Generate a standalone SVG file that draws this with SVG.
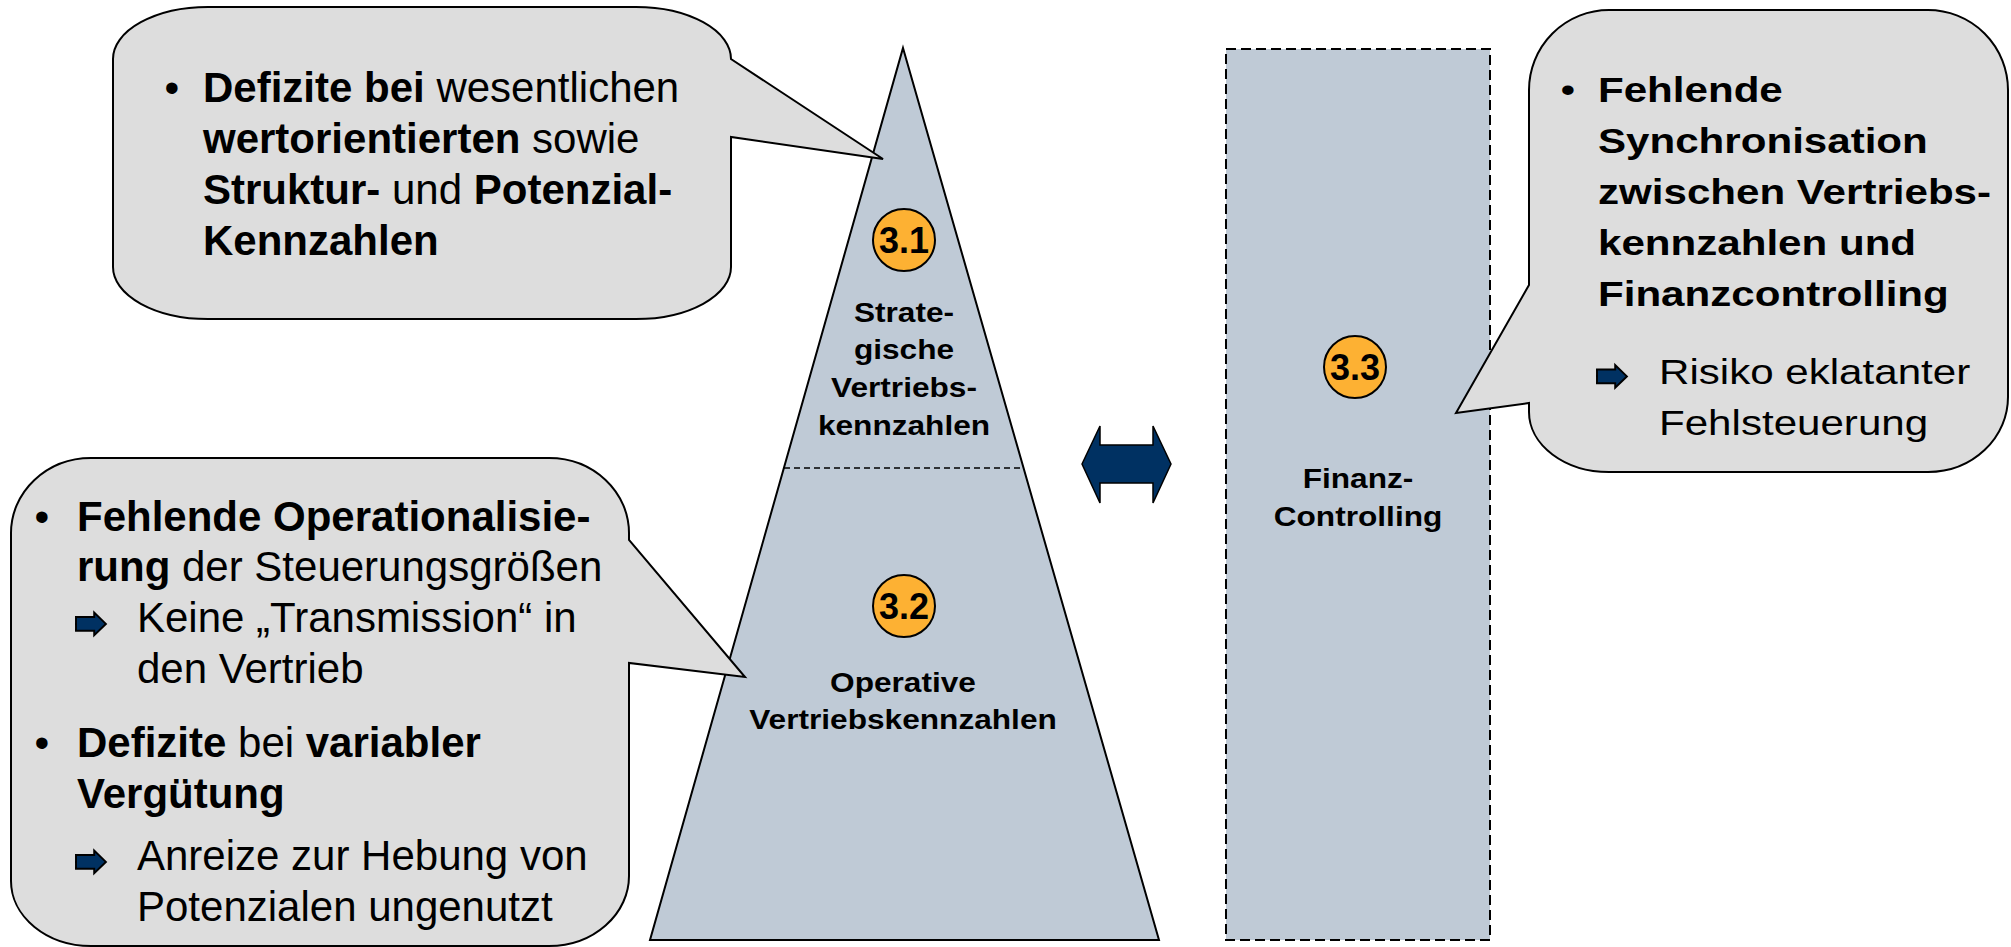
<svg xmlns="http://www.w3.org/2000/svg" width="2011" height="947" viewBox="0 0 2011 947">
<defs>
<style>
.t{font-family:"Liberation Sans",Arial,Helvetica,sans-serif;font-size:36px;fill:#000}
.tl{font-family:"Liberation Sans",Arial,Helvetica,sans-serif;font-size:42px;fill:#000}
.b{font-weight:bold}
.lbl{font-family:"Liberation Sans",Arial,Helvetica,sans-serif;font-size:28px;font-weight:bold;fill:#000;text-anchor:middle}
.num{font-family:"Liberation Sans",Arial,Helvetica,sans-serif;font-size:36px;font-weight:bold;fill:#000;text-anchor:middle}
.shape{fill:#BFCAD6;stroke:#000;stroke-width:2}
.callout{fill:#DDDDDD;stroke:#000;stroke-width:2;stroke-linejoin:miter}
.badge{fill:#FDB133;stroke:#000;stroke-width:2}
.navy{fill:#003162;stroke:#000;stroke-width:1.5;stroke-linejoin:miter}
</style>
<path id="arr" d="M0,3.5 H14 V0 L23,8.75 L14,17.5 V14 H0 Z"/>
</defs>
<rect width="2011" height="947" fill="#fff"/>

<g id="pyramid">
<polygon class="shape" points="903,48 1159,940 650,940"/>
<line x1="784" y1="468" x2="1024" y2="468" stroke="#000" stroke-width="1.5" stroke-dasharray="6,4"/>
<g id="badge-3-1"><circle class="badge" cx="904" cy="240" r="31"/><text class="num" x="904" y="253">3.1</text></g>
<g transform="translate(904,0) scale(1.13,1)">
<text class="lbl" x="0" y="321.7">Strate-</text>
<text class="lbl" x="0" y="359.5">gische</text>
<text class="lbl" x="0" y="397.3">Vertriebs-</text>
<text class="lbl" x="0" y="435">kennzahlen</text>
</g>
<g id="badge-3-2"><circle class="badge" cx="904" cy="606" r="31"/><text class="num" x="904" y="619">3.2</text></g>
<g transform="translate(903,0) scale(1.13,1)">
<text class="lbl" x="0" y="691.7">Operative</text>
<text class="lbl" x="0" y="729.3">Vertriebskennzahlen</text>
</g>
</g>

<g id="finanz-controlling">
<rect x="1226" y="49" width="264" height="891" fill="#BFCAD6" stroke="#000" stroke-width="2" stroke-dasharray="10,5"/>
<g id="badge-3-3"><circle class="badge" cx="1355" cy="367" r="31"/><text class="num" x="1355" y="380">3.3</text></g>
<g transform="translate(1358,0) scale(1.13,1)">
<text class="lbl" x="0" y="488">Finanz-</text>
<text class="lbl" x="0" y="525.7">Controlling</text>
</g>
</g>

<g id="connectors">
<polygon class="navy" points="1082,464 1100,426 1100,445 1153,445 1153,426 1171,464 1153,503 1153,483 1100,483 1100,503"/>
</g>

<g id="callout-1">
<path class="callout" d="M208,7 H636 A95,52 0 0 1 731,59 L883,159 L731,137 V267 A95,52 0 0 1 636,319 H208 A95,52 0 0 1 113,267 V59 A95,52 0 0 1 208,7 Z"/>
<text class="tl" x="164.6" y="101.7">•</text>
<text class="tl" x="203" y="101.7"><tspan class="b">Defizite bei</tspan> wesentlichen</text>
<text class="tl" x="203" y="153"><tspan class="b">wertorientierten</tspan> sowie</text>
<text class="tl" x="203" y="204"><tspan class="b">Struktur-</tspan> und <tspan class="b">Potenzial-</tspan></text>
<text class="tl" x="203" y="255"><tspan class="b">Kennzahlen</tspan></text>
</g>

<g id="callout-2">
<path class="callout" d="M91,458 H549 A80,75 0 0 1 629,533 V540 L745,677 L629,663 V876 A80,70 0 0 1 549,946 H91 A80,65 0 0 1 11,881 V533 A80,75 0 0 1 91,458 Z"/>
<text class="tl" x="34.6" y="531">•</text>
<text class="tl" x="77" y="531"><tspan class="b">Fehlende Operationalisie-</tspan></text>
<text class="tl" x="77" y="581"><tspan class="b">rung</tspan> der Steuerungsgrößen</text>
<use href="#arr" class="navy" transform="translate(76,612.5) scale(1.3)"/>
<text class="tl" x="137" y="631.7">Keine „Transmission“ in</text>
<text class="tl" x="137" y="683">den Vertrieb</text>
<text class="tl" x="34.6" y="756.7">•</text>
<text class="tl" x="77" y="756.7"><tspan class="b">Defizite</tspan> bei <tspan class="b">variabler</tspan></text>
<text class="tl" x="77" y="807.7"><tspan class="b">Vergütung</tspan></text>
<use href="#arr" class="navy" transform="translate(76,850.5) scale(1.3)"/>
<text class="tl" x="137" y="870">Anreize zur Hebung von</text>
<text class="tl" x="137" y="921">Potenzialen ungenutzt</text>
</g>

<g id="callout-3">
<path class="callout" d="M1609,10 H1928 A80,80 0 0 1 2008,90 V397 A80,75 0 0 1 1928,472 H1609 A80,60 0 0 1 1529,412 V403 L1456,413 L1529,285 V90 A80,80 0 0 1 1609,10 Z"/>
<text class="t" transform="translate(1560.6,102) scale(1.17,1)">•</text>
<text class="t b" transform="translate(1598,102) scale(1.17,1)">Fehlende</text>
<text class="t b" transform="translate(1598,153) scale(1.17,1)">Synchronisation</text>
<text class="t b" transform="translate(1598,204) scale(1.17,1)">zwischen Vertriebs-</text>
<text class="t b" transform="translate(1598,255) scale(1.17,1)">kennzahlen und</text>
<text class="t b" transform="translate(1598,306) scale(1.17,1)">Finanzcontrolling</text>
<use href="#arr" class="navy" transform="translate(1597,365) scale(1.3)"/>
<text class="t" transform="translate(1659,384) scale(1.17,1)">Risiko eklatanter</text>
<text class="t" transform="translate(1659,435) scale(1.17,1)">Fehlsteuerung</text>
</g>
</svg>
